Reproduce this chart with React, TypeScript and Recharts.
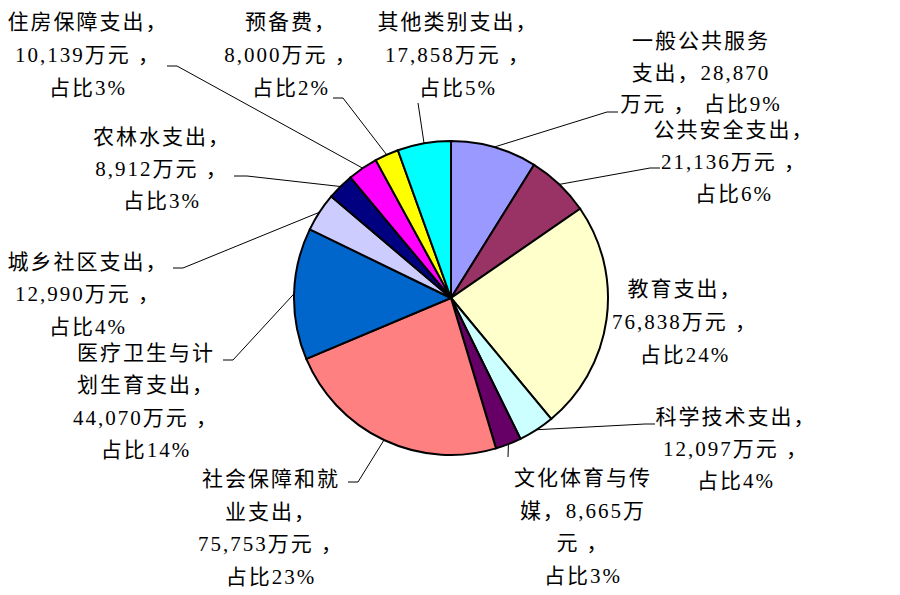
import React from "react";
import { PieChart, Pie, Cell } from "recharts";

const categories = [
  "一般公共服务支出",
  "公共安全支出",
  "教育支出",
  "科学技术支出",
  "文化体育与传媒",
  "社会保障和就业支出",
  "医疗卫生与计划生育支出",
  "城乡社区支出",
  "农林水支出",
  "住房保障支出",
  "预备费",
  "其他类别支出",
];

const values = [28870, 21136, 76838, 12097, 8665, 75753, 44070, 12990, 8912, 10139, 8000, 17858];

const colors = [
  "#9999FF", "#993366", "#FFFFCC", "#CCFFFF", "#660066", "#FF8080",
  "#0066CC", "#CCCCFF", "#000080", "#FF00FF", "#FFFF00", "#00FFFF",
];

const labelLines: string[][] = [
  ["一般公共服务", "支出，28,870", "万元 ， 占比9%"],
  ["公共安全支出，", "21,136万元 ，", "占比6%"],
  ["教育支出，", "76,838万元 ，", "占比24%"],
  ["科学技术支出，", "12,097万元 ，", "占比4%"],
  ["文化体育与传", "媒，8,665万", "元 ，", "占比3%"],
  ["社会保障和就", "业支出，", "75,753万元 ，", "占比23%"],
  ["医疗卫生与计", "划生育支出，", "44,070万元 ，", "占比14%"],
  ["城乡社区支出，", "12,990万元 ，", "占比4%"],
  ["农林水支出，", "8,912万元 ，", "占比3%"],
  ["住房保障支出，", "10,139万元 ，", "占比3%"],
  ["预备费，", "8,000万元 ，", "占比2%"],
  ["其他类别支出，", "17,858万元 ，", "占比5%"],
];

// label placement (text block centre x, first line centre y, line gap, leader points after the slice edge)
const labelLayout: { x: number; y: number; gap: number; leader: number[][] }[] = [
  { x: 700, y: 41, gap: 31.5, leader: [[607, 112], [618, 112]] },
  { x: 733, y: 130, gap: 32, leader: [[650, 168], [660, 168]] },
  { x: 684, y: 289, gap: 33, leader: [] },
  { x: 735, y: 417, gap: 32, leader: [[645, 424], [655, 424]] },
  { x: 582, y: 478, gap: 32.7, leader: [[508, 457]] },
  { x: 270, y: 479, gap: 32.7, leader: [[358, 482], [348, 482]] },
  { x: 145, y: 353, gap: 32.3, leader: [[233, 360], [223, 360]] },
  { x: 87, y: 262, gap: 32.3, leader: [[183, 268], [173, 268]] },
  { x: 161, y: 137, gap: 32, leader: [[247, 176], [234, 176]] },
  { x: 87, y: 22, gap: 33, leader: [[177, 66], [167, 66]] },
  { x: 290, y: 22, gap: 33, leader: [[343, 98], [333, 98]] },
  { x: 457, y: 22, gap: 33, leader: [[418, 103]] },
];

const data = categories.map((name, i) => ({ name, value: values[i] }));

const RADIAN = Math.PI / 180;

const renderLabel = (props: any) => {
  const { cx, cy, midAngle, outerRadius, index } = props;
  const lay = labelLayout[index];
  const sx = cx + outerRadius * Math.cos(-midAngle * RADIAN);
  const sy = cy + outerRadius * Math.sin(-midAngle * RADIAN);
  const pts = [[sx, sy], ...lay.leader];
  return (
    <g key={`lbl-${index}`}>
      {lay.leader.length > 0 && (
        <polyline
          points={pts.map((p) => p.join(",")).join(" ")}
          fill="none"
          stroke="#000"
          strokeWidth={1}
        />
      )}
      {labelLines[index].map((ln, i) => (
        <text
          key={i}
          x={lay.x + 1}
          y={lay.y + i * lay.gap}
          textAnchor="middle"
          dominantBaseline="central"
          fill="#000"
          fontFamily="Liberation Serif, Noto Sans CJK SC, serif"
          fontSize={21}
          letterSpacing={2}
        >
          {ln}
        </text>
      ))}
    </g>
  );
};

export default function App() {
  return (
    <div style={{ position: "absolute", left: 0, top: 0, width: 900, height: 595, background: "#fff" }}>
      <PieChart width={900} height={595} margin={{ top: 0, right: 0, bottom: 0, left: 0 }}>
        <Pie
          data={data}
          dataKey="value"
          nameKey="name"
          cx={451}
          cy={298}
          outerRadius={157}
          startAngle={90}
          endAngle={-270}
          stroke="#000"
          strokeWidth={2}
          label={renderLabel}
          labelLine={false}
          isAnimationActive={false}
        >
          {data.map((d, i) => (
            <Cell key={d.name} fill={colors[i]} />
          ))}
        </Pie>
      </PieChart>
    </div>
  );
}
